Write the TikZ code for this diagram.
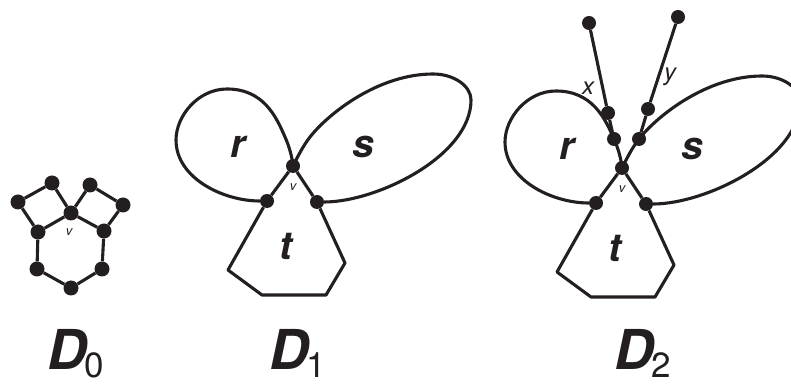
\documentclass[tikz,border=0pt]{standalone}
\usepackage{fontspec}
\setmainfont{TeX Gyre Heros}
\usetikzlibrary{positioning}
\definecolor{ink}{RGB}{35,31,32}
\newcommand{\dname}[1]{{\fontsize{55}{60}\selectfont\bfseries\itshape D}\kern-2pt\raisebox{-8pt}{\fontsize{35}{38}\selectfont #1}}

\tikzset{
  edge/.style={ink, line width=3.1pt, line join=round},
  dot/.style={circle, fill=ink, inner sep=0pt, minimum size=14pt},
  bigdot/.style={dot, minimum size=15pt},
  face/.style={ink, font=\fontsize{39}{40}\selectfont\bfseries\itshape},
  vlab/.style={ink, font=\fontsize{13}{14}\selectfont\itshape},
  elab/.style={ink, font=\fontsize{24}{26}\selectfont\itshape},
  wings/.pic={
    \node[dot] (-v) at (0,0) {};
    \node[dot] (-ld) at (-26,-35) {};
    \node[dot] (-rd) at (24,-36) {};
    % face r
    \draw[edge] (0,0) .. controls (-1,10) and (-4,20) .. (-8,29) coordinate (-rx)
      .. controls (-17,50) and (-30,77) .. (-66,77)
      .. controls (-95,77) and (-117,50) .. (-117,26)
      .. controls (-117,-12) and (-70,-35) .. (-ld);
    % face s
    \draw[edge] (0,0) .. controls (5,10) and (10,20) .. (17,29) coordinate (-sx)
      .. controls (35,52) and (85,92) .. (140,92)
      .. controls (161,92) and (178,80) .. (178,66)
      .. controls (178,10) and (84,-36) .. (-rd);
    % face t
    \draw[edge] (-v) -- (-ld) -- (-65,-104) -- (-31,-129) -- (33,-129) -- (52,-97) -- (-rd) -- (-v);
    \node[face] (-r) at (-55,19) {r};
    \node[face] (-s) at (70,19) {s};
    \node[face] (-t) at (-7,-80) {t};
    \node[vlab] (-vl) at (0,-21) {v};
  }
}

\begin{document}
\begin{tikzpicture}[x=1pt, y=1pt]
  \useasboundingbox (0,0) rectangle (791,385);

  % D0
  \node[bigdot] (tl) at (52,202) {};
  \node[bigdot] (ol) at (18,183) {};
  \node[bigdot] (tr) at (90,200) {};
  \node[bigdot] (or) at (123,180) {};
  \node[bigdot] (v0) at (71,172) {};
  \node[bigdot] (ml) at (38,153) {};
  \node[bigdot] (mr) at (104,154) {};
  \node[bigdot] (bl) at (37,116) {};
  \node[bigdot] (br) at (102,116) {};
  \node[bigdot] (bm) at (71,97) {};
  \draw[edge] (ol) -- (tl) -- (v0) -- (tr) -- (or) -- (mr) -- (br) -- (bm) -- (bl) -- (ml) -- (ol);
  \draw[edge] (ml) -- (v0) -- (mr);
  \node[vlab] (v0l) at (69,153) {v};

  % D1 and D2
  \pic (D1) at (293,219) {wings};
  \pic (D2) at (622,217) {wings};

  \node[dot] (rxd) at (D2-rx) {};
  \node[dot] (sxd) at (D2-sx) {};
  \node[dot] (xmid) at (608,272) {};
  \node[dot] (xtop) at (589,362) {};
  \node[dot] (ymid) at (648,276) {};
  \node[dot] (ytop) at (678,368) {};
  \draw[edge] (xtop) -- (xmid) -- (rxd);
  \draw[edge] (ytop) -- (ymid) -- (sxd);
  \node[elab] (xl) at (588,297) {x};
  \node[elab] (yl) at (670,308) {y};

  % names
  \node[ink, anchor=base west, inner sep=0pt] (d0) at (47,16) {\dname{0}};
  \node[ink, anchor=base west, inner sep=0pt] (d1) at (269,16) {\dname{1}};
  \node[ink, anchor=base west, inner sep=0pt] (d2) at (614,16) {\dname{2}};
\end{tikzpicture}
\end{document}
